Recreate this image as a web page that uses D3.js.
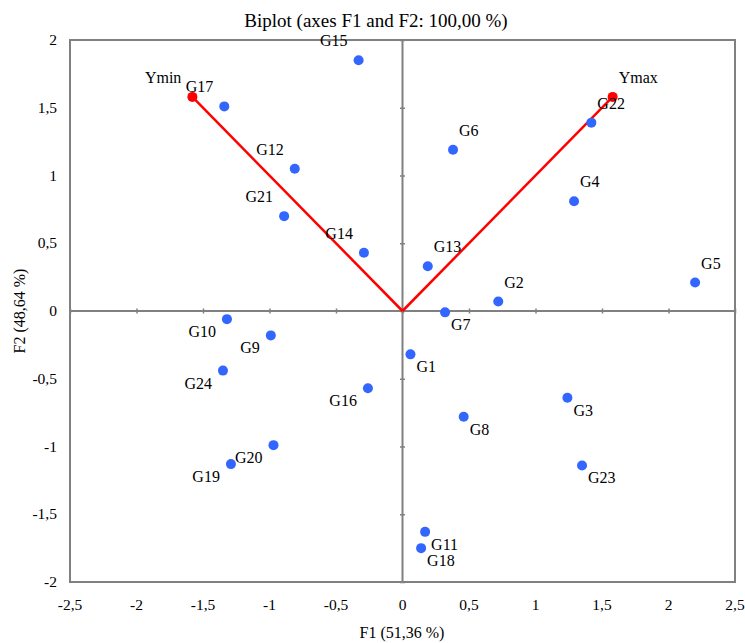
<!DOCTYPE html>
<html><head><meta charset="utf-8">
<script src="https://cdn.jsdelivr.net/npm/d3@7"></script>
<style>body{margin:0;background:#fff}svg{display:block}</style>
</head><body>
<svg id="c" width="745" height="643"></svg>
<script>
const obsNames = ["G1","G2","G3","G4","G5","G6","G7","G8","G9","G10","G11","G12","G13","G14","G15","G16","G17","G18","G19","G20","G21","G22","G23","G24"];
const obsF1 = [0.06,0.72,1.24,1.29,2.20,0.38,0.32,0.46,-0.99,-1.32,0.17,-0.81,0.19,-0.29,-0.33,-0.26,-1.34,0.14,-1.29,-0.97,-0.89,1.42,1.35,-1.35];
const obsF2 = [-0.32,0.07,-0.64,0.81,0.21,1.19,-0.01,-0.78,-0.18,-0.06,-1.63,1.05,0.33,0.43,1.85,-0.57,1.51,-1.75,-1.13,-0.99,0.70,1.39,-1.14,-0.44];
const varNames = ["Ymin","Ymax"];
const varF1 = [-1.58,1.58];
const varF2 = [1.58,1.58];
const xTicks = [-2.5,-2,-1.5,-1,-0.5,0,0.5,1,1.5,2,2.5];
const yTicks = [-2,-1.5,-1,-0.5,0,0.5,1,1.5,2];
const title = "Biplot (axes F1 and F2: 100,00 %)";
const xTitle = "F1 (51,36 %)";
const yTitle = "F2 (48,64 %)";

// label placement (quadrant) for each name
const place = {G15:"tl",G17:"tl",Ymin:"tl",G12:"tl",G21:"tl",G14:"tl",
  G6:"tr",G22:"tr",Ymax:"tr",G4:"tr",G13:"tr",G2:"tr",G5:"tr"};
["G10","G9","G24","G16","G20","G19"].forEach(n=>place[n]="bl");

const FONT = "Liberation Serif";
const svg = d3.select("#c");
const L=70,R=735,T=40,B=582;
const x = d3.scaleLinear().domain([-2.5,2.5]).range([L,R]);
const y = d3.scaleLinear().domain([-2,2]).range([B,T]);
const fmt = v => String(v).replace(".",",");
const grey="#808080";

svg.append("text").attr("x",376).attr("y",27).attr("text-anchor","middle")
  .attr("font-family",FONT).style("font-size","19px").text(title);

svg.append("rect").attr("x",L).attr("y",T).attr("width",R-L).attr("height",B-T)
  .attr("fill","none").attr("stroke",grey).attr("stroke-width",2);

// central axes with ticks
const xAx = d3.axisBottom(x).tickValues(xTicks).tickSize(5).tickFormat("");
const gx = svg.append("g").attr("transform",`translate(0,${y(0)-2.5})`).call(xAx);
gx.select(".domain").remove();
gx.selectAll("line").attr("stroke",grey).attr("stroke-width",1.5);
svg.append("line").attr("x1",L).attr("x2",R).attr("y1",y(0)).attr("y2",y(0)).attr("stroke",grey).attr("stroke-width",2);

const yAx = d3.axisRight(y).tickValues(yTicks).tickSize(5).tickFormat("");
const gy = svg.append("g").attr("transform",`translate(${x(0)-2.5},0)`).call(yAx);
gy.select(".domain").remove();
gy.selectAll("line").attr("stroke",grey).attr("stroke-width",1.5);
svg.append("line").attr("x1",x(0)).attr("x2",x(0)).attr("y1",T).attr("y2",B).attr("stroke",grey).attr("stroke-width",2);

// tick labels
svg.append("g").selectAll("text").data(xTicks).join("text")
  .attr("x",d=>x(d)).attr("y",610).attr("text-anchor","middle")
  .attr("font-family",FONT).style("font-size","15.5px").text(fmt);
svg.append("g").selectAll("text").data(yTicks).join("text")
  .attr("x",57).attr("y",d=>y(d)+5).attr("text-anchor","end")
  .attr("font-family",FONT).style("font-size","15.5px").text(fmt);

svg.append("text").attr("x",402).attr("y",638).attr("text-anchor","middle")
  .attr("font-family",FONT).style("font-size","16px").text(xTitle);
svg.append("text").attr("transform",`translate(25,${y(0)}) rotate(-90)`).attr("text-anchor","middle")
  .attr("font-family",FONT).style("font-size","16px").text(yTitle);

// vectors
const vars = varNames.map((n,i)=>({n,a:varF1[i],b:varF2[i]}));
svg.append("g").selectAll("line").data(vars).join("line")
  .attr("x1",x(0)).attr("y1",y(0)).attr("x2",d=>x(d.a)).attr("y2",d=>y(d.b))
  .attr("stroke","#ff0000").attr("stroke-width",2.5);
svg.append("g").selectAll("circle").data(vars).join("circle")
  .attr("cx",d=>x(d.a)).attr("cy",d=>y(d.b)).attr("r",5).attr("fill","#ff0000");

// observations
const obs = obsNames.map((n,i)=>({n,a:obsF1[i],b:obsF2[i]}));
svg.append("g").selectAll("circle").data(obs).join("circle")
  .attr("cx",d=>x(d.a)).attr("cy",d=>y(d.b)).attr("r",5).attr("fill","#3366ff");

const all = obs.concat(vars);
svg.append("g").selectAll("text").data(all).join("text")
  .attr("x",d=>{const p=place[d.n]||"br";return x(d.a)+(p[1]==="l"?-11:6);})
  .attr("y",d=>{const p=place[d.n]||"br";return y(d.b)+(p[0]==="t"?-14:18);})
  .attr("text-anchor",d=>{const p=place[d.n]||"br";return p[1]==="l"?"end":"start";})
  .attr("font-family",FONT).style("font-size","16px").text(d=>d.n);
</script>
</body></html>
